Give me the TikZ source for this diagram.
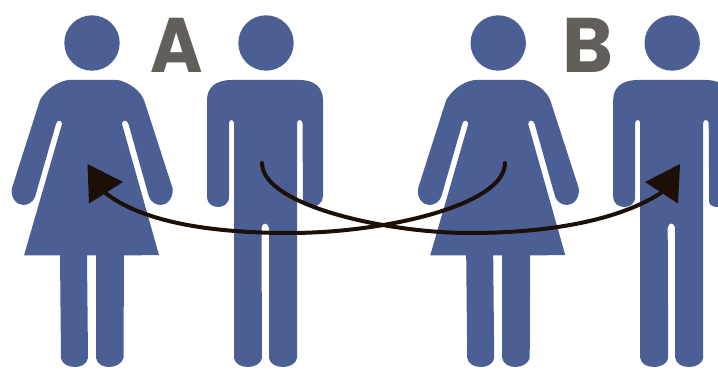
\documentclass[tikz,border=0pt]{standalone}
\usepackage{graphicx}
\usepackage{fontspec}
\setmainfont{Poppins}[BoldFont={Poppins Bold}]
\definecolor{figblue}{HTML}{4C5F94}
\definecolor{lettergrey}{HTML}{625E5A}
\definecolor{curveink}{HTML}{1C1006}
\tikzset{
  figure/.style={fill=figblue,draw=none},
  letter/.style={text=lettergrey,font=\fontsize{58}{58}\selectfont\bfseries,inner sep=0pt,anchor=center},
  curveline/.style={draw=curveink,line width=3pt,line cap=round},
  tiptri/.style={fill=curveink,draw=none},
}
\newcommand{\womanshape}{%
  \fill[figure] (92,43) circle (27.7);
  \path[figure] (68,80) -- (118,80)
    .. controls (128,82) and (140,90) .. (144,100)
    -- (172.5,188) .. controls (174,198) and (167,205) .. (161,205)
    .. controls (156,205) and (151,202) .. (149,197)
    -- (128.5,124) .. controls (127,119) and (122,120) .. (122,124)
    -- (159,255) -- (124,255.5) -- (123.5,358)
    .. controls (122,364) and (115,367) .. (109,367)
    .. controls (103,367) and (97,364) .. (96,358)
    -- (96,255.5) -- (87,255.5) -- (88,358)
    .. controls (87,364) and (81,367) .. (75,367)
    .. controls (68,367) and (62,364) .. (61,358)
    -- (60,255.5) -- (24,255.5) -- (62,124)
    .. controls (62,120) and (57,119) .. (56,124)
    -- (35,197) .. controls (33,202) and (28,205) .. (23,205)
    .. controls (17,205) and (10,198) .. (12,188)
    -- (40,100) .. controls (46,90) and (56,82) .. (68,80) -- cycle;
}
\newcommand{\manshape}{%
  \fill[figure] (266,43) circle (27.7);
  \path[figure] (232,80) -- (300,80)
    .. controls (315,80) and (323,88) .. (323,100)
    -- (323,196) .. controls (323,203) and (317,207) .. (311,207)
    .. controls (307,207) and (303,205) .. (303,202)
    -- (302.5,123) .. controls (302,119) and (297,119) .. (297,123)
    -- (297,358) .. controls (296,364) and (289,367) .. (283,367)
    .. controls (276,367) and (270,364) .. (269,358)
    -- (269,228) .. controls (268,222) and (262,222) .. (261.5,228)
    -- (262,358) .. controls (261,364) and (254,367) .. (248,367)
    .. controls (241,367) and (235,364) .. (234,358)
    -- (234,123) .. controls (234,119) and (229,119) .. (229,123)
    -- (229,197) .. controls (229,204) and (223,207) .. (218,207)
    .. controls (212,207) and (207,203) .. (207,197)
    -- (207,100) .. controls (207,88) and (215,80) .. (232,80) -- cycle;
}
\begin{document}
\begin{tikzpicture}[x=0.75pt,y=-0.75pt]
\path[use as bounding box] (0,0) rectangle (718,370);
\clip (0,0) rectangle (718,370);
\womanshape
\manshape
\begin{scope}[shift={(406.2,0)}]
\womanshape
\manshape
\end{scope}
\node[letter] (labelA) at (177,45.5) {\scalebox{0.92}[1]{A}};
\node[letter] (labelB) at (587.5,45.5) {B};
\coordinate (startA) at (262,163);
\coordinate (midA) at (470,233);
\coordinate (endA) at (668,188);
\coordinate (startB) at (505,163);
\coordinate (midB) at (290,233);
\coordinate (endB) at (103,191);
\draw[curveline] (startA) .. controls (262,205) and (385,233) .. (midA)
  .. controls (550,233) and (625,220) .. (endA);
\draw[curveline] (startB) .. controls (505,205) and (385,233) .. (midB)
  .. controls (210,233) and (140,222) .. (endB);
\fill[tiptri] (87.5,164) -- (123,182) -- (89,203.5) -- cycle;
\fill[tiptri] (680,164) -- (645,182) -- (678,203.5) -- cycle;
\end{tikzpicture}
\end{document}
